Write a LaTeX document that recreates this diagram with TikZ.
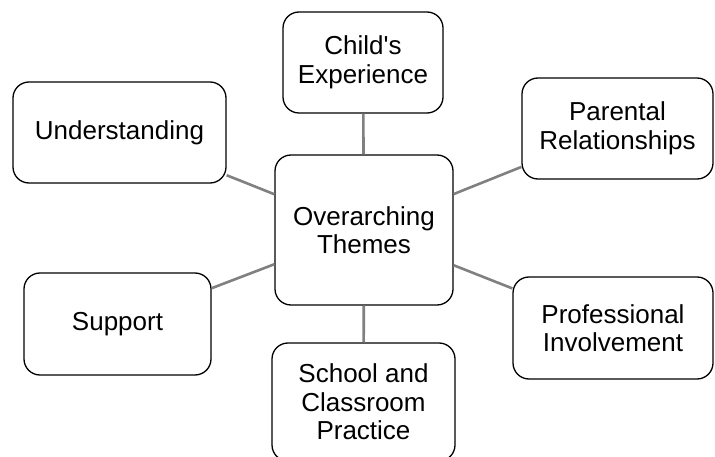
\documentclass[tikz,border=0pt]{standalone}
\usepackage{fontspec}
\setmainfont{Liberation Sans}
\newcommand{\themefont}{\fontsize{26}{28.5}\selectfont}

\begin{document}
\begin{tikzpicture}[x=1pt,y=-1pt,
  theme/.style={draw=black,line width=1.3pt,rounded corners=16pt,align=center,inner sep=0pt,font=\themefont},
  link/.style={draw=gray,line width=2.6pt}]

\useasboundingbox (0,0) rectangle (715,457);

% theme boxes:
\node[theme,minimum width=178pt,minimum height=150pt] (hub) at (364,230) {Overarching\\Themes};
\node[theme,minimum width=160pt,minimum height=101pt] (child) at (363,62.5) {Child\textquotesingle s\\Experience};
\node[theme,minimum width=213pt,minimum height=101pt] (under) at (119.5,132.5) {Understanding};
\node[theme,minimum width=191pt,minimum height=101pt] (parent) at (617.5,128.5) {Parental\\Relationships};
\node[theme,minimum width=187pt,minimum height=102pt] (support) at (117.5,324) {Support};
\node[theme,minimum width=200pt,minimum height=102pt] (prof) at (613,328) {Professional\\Involvement};
\node[theme,minimum width=183pt,minimum height=118pt] (school) at (363.5,402) {School and\\Classroom\\Practice};

% links to the hub:
\draw[link] (hub) -- (child);
\draw[link] (hub) -- (under);
\draw[link] (hub) -- (parent);
\draw[link] (hub) -- (support);
\draw[link] (hub) -- (prof);
\draw[link] (hub) -- (school);

\end{tikzpicture}
\end{document}
